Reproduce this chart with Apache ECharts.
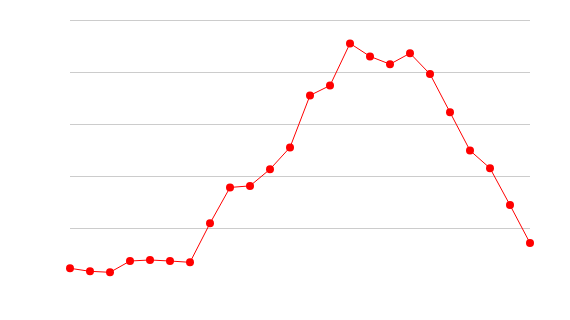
<!DOCTYPE html>
<html><head><meta charset="utf-8">
<script src="https://cdn.jsdelivr.net/npm/echarts@6/dist/echarts.min.js"></script>
<style>html,body{margin:0;padding:0;background:#fff}#c{width:570px;height:320px}</style>
</head><body><div id="c"></div>
<script>
const categories = ['1','2','3','4','5','6','7','8','9','10','11','12','13','14','15','16','17','18','19','20','21','22','23','24'];
const values = [0.225,0.167,0.148,0.365,0.385,0.365,0.34,1.09,1.78,1.81,2.13,2.55,3.55,3.74,4.55,4.30,4.15,4.36,3.96,3.225,2.49,2.15,1.44,0.71];
const chart = echarts.init(document.getElementById('c'), null, {renderer:'canvas'});
chart.setOption({
  animation:false,
  grid:{left:70,right:40,top:20,bottom:40},
  xAxis:{type:'category',data:categories,boundaryGap:false,
    axisLine:{show:false},axisTick:{show:false},axisLabel:{show:false},splitLine:{show:false}},
  yAxis:{type:'value',min:0,max:5,interval:1,
    axisLine:{show:false},axisTick:{show:false},axisLabel:{show:false},
    splitLine:{show:true,showMinLine:false,lineStyle:{color:'#cccccc',width:1}}},
  series:[{type:'line',data:values,symbol:'circle',symbolSize:8,
    lineStyle:{color:'#ff0000',width:1},itemStyle:{color:'#ff0000'}}]
});
</script></body></html>
